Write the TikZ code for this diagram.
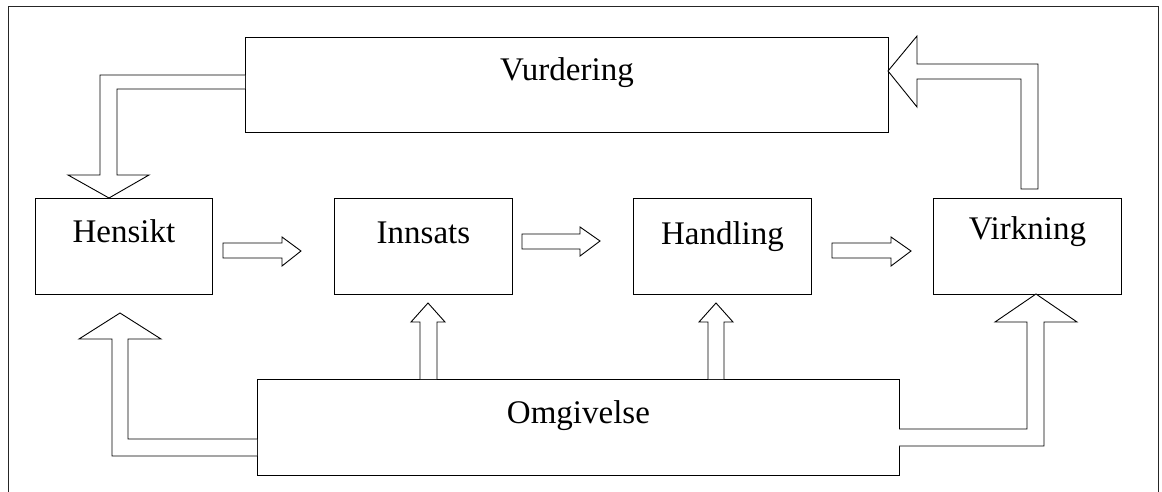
\documentclass[tikz,border=0pt]{standalone}
\usepackage{fontspec}
\setmainfont{Liberation Serif}
\begin{document}
\begin{tikzpicture}[x=1pt,y=-1pt,
  boxnode/.style={draw=black,line width=0.9pt,inner sep=0pt,anchor=north west,
    font=\fontsize{33}{38}\selectfont},
  blockarrow/.style={draw=black,line width=0.9pt,fill=white,line join=miter}]
\useasboundingbox (0,0) rectangle (1162,492);
% frame
\draw[line width=0.9pt,draw=black!85] (8,492) -- (8,6) -- (1158,6) -- (1158,492);
% boxes
\node[boxnode,minimum width=643pt,text height=43pt,text depth=52pt] (vur) at (245,37) {Vurdering};
\node[boxnode,minimum width=177pt,text height=44pt,text depth=52pt] (hen) at (35,198) {Hensikt};
\node[boxnode,minimum width=178pt,text height=45pt,text depth=51pt] (inn) at (334,198) {Innsats};
\node[boxnode,minimum width=178pt,text height=46pt,text depth=50pt] (han) at (633,198) {Handling};
\node[boxnode,minimum width=188pt,text height=41pt,text depth=55pt] (vir) at (933,198) {Virkning};
\node[boxnode,minimum width=642pt,text height=44pt,text depth=52pt] (omg) at (257,379) {Omgivelse};
% Vurdering -> Hensikt
\draw[blockarrow] (245,75) -- (100,75) -- (100,175) -- (68,175) -- (109,198) -- (149,175) -- (117,175) -- (117,89) -- (245,89);
% Virkning -> Vurdering
\draw[blockarrow] (1021,189) -- (1021,79) -- (917,79) -- (917,107) -- (888,71) -- (917,36) -- (917,64) -- (1038,64) -- (1038,189) -- cycle;
% horizontal arrows
\draw[blockarrow] (223,243) -- (282,243) -- (282,237) -- (301,251) -- (282,266) -- (282,258) -- (223,258) -- cycle;
\draw[blockarrow] (522,234) -- (580,234) -- (580,227) -- (600,241) -- (580,256) -- (580,249) -- (522,249) -- cycle;
\draw[blockarrow] (832,243) -- (891,243) -- (891,237) -- (911,251) -- (891,266) -- (891,258) -- (832,258) -- cycle;
% Omgivelse -> Hensikt
\draw[blockarrow] (257,439) -- (128,439) -- (128,339) -- (161,339) -- (120,313) -- (79,339) -- (112,339) -- (112,456) -- (257,456);
% Omgivelse -> Virkning
\draw[blockarrow] (899,429) -- (1027,429) -- (1027,322) -- (995,322) -- (1036,294) -- (1077,322) -- (1044,322) -- (1044,446) -- (899,446);
% Omgivelse -> Innsats / Handling
\draw[blockarrow] (420,379) -- (420,322) -- (411,322) -- (428,303) -- (445,322) -- (437,322) -- (437,379);
\draw[blockarrow] (708,379) -- (708,322) -- (699,322) -- (716,303) -- (733,322) -- (724,322) -- (724,379);
\end{tikzpicture}
\end{document}
